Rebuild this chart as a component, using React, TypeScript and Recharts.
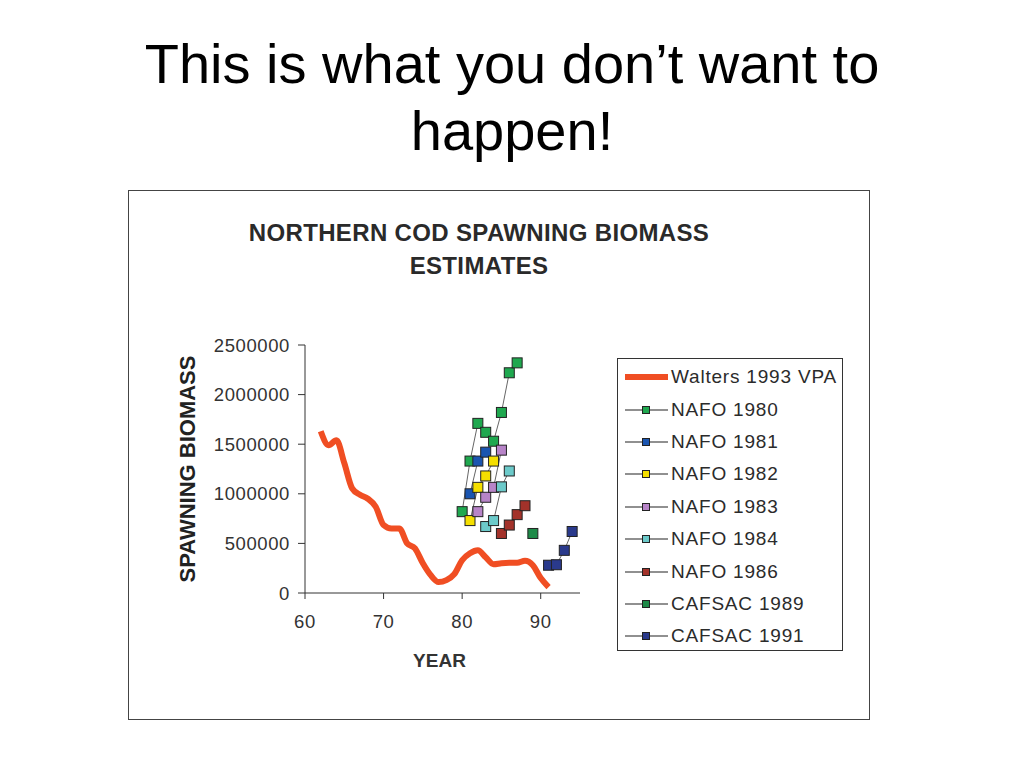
import React from 'react';
import { LineChart, Line, XAxis, YAxis } from 'recharts';

// Walters 1993 VPA spawning biomass
const walters = [
  { year: 62, value: 1630000 }, { year: 63, value: 1490000 }, { year: 64, value: 1540000 },
  { year: 65, value: 1310000 }, { year: 66, value: 1055000 }, { year: 67, value: 990000 },
  { year: 68, value: 950000 }, { year: 69, value: 870000 }, { year: 70, value: 685000 },
  { year: 71, value: 650000 }, { year: 72, value: 650000 }, { year: 73, value: 500000 },
  { year: 74, value: 450000 }, { year: 75, value: 300000 }, { year: 76, value: 180000 },
  { year: 77, value: 110000 }, { year: 78, value: 130000 }, { year: 79, value: 190000 },
  { year: 80, value: 330000 }, { year: 81, value: 400000 }, { year: 82, value: 430000 },
  { year: 83, value: 360000 }, { year: 84, value: 290000 }, { year: 85, value: 300000 },
  { year: 86, value: 305000 }, { year: 87, value: 305000 }, { year: 88, value: 325000 },
  { year: 89, value: 280000 }, { year: 90, value: 150000 }, { year: 91, value: 60000 },
];

const nafo1980 = [
  { year: 80, value: 820000 }, { year: 81, value: 1330000 }, { year: 82, value: 1710000 },
  { year: 83, value: 1620000 }, { year: 84, value: 1530000 }, { year: 85, value: 1820000 },
  { year: 86, value: 2220000 }, { year: 87, value: 2320000 },
];
const nafo1981 = [
  { year: 81, value: 1000000 }, { year: 82, value: 1330000 }, { year: 83, value: 1420000 },
];
const nafo1982 = [
  { year: 81, value: 730000 }, { year: 82, value: 1065000 }, { year: 83, value: 1180000 },
  { year: 84, value: 1330000 },
];
const nafo1983 = [
  { year: 82, value: 820000 }, { year: 83, value: 965000 }, { year: 84, value: 1065000 },
  { year: 85, value: 1440000 },
];
const nafo1984 = [
  { year: 83, value: 670000 }, { year: 84, value: 730000 }, { year: 85, value: 1070000 },
  { year: 86, value: 1230000 },
];
const nafo1986 = [
  { year: 85, value: 600000 }, { year: 86, value: 685000 }, { year: 87, value: 790000 },
  { year: 88, value: 880000 },
];
const cafsac1989 = [{ year: 89, value: 600000 }];
const cafsac1991 = [
  { year: 91, value: 280000 }, { year: 92, value: 285000 }, { year: 93, value: 430000 },
  { year: 94, value: 620000 },
];

const yTicks = [0, 500000, 1000000, 1500000, 2000000, 2500000];
const xTicks = [60, 70, 80, 90];

const WALTERS_COLOR = '#f04e23';

const assessments = [
  { name: 'NAFO 1980', data: nafo1980, color: '#1fa84f' },
  { name: 'NAFO 1981', data: nafo1981, color: '#1a55b0' },
  { name: 'NAFO 1982', data: nafo1982, color: '#f5df00' },
  { name: 'NAFO 1983', data: nafo1983, color: '#b784c8' },
  { name: 'NAFO 1984', data: nafo1984, color: '#6ccaca' },
  { name: 'NAFO 1986', data: nafo1986, color: '#a3322a' },
  { name: 'CAFSAC 1989', data: cafsac1989, color: '#1e8a48' },
  { name: 'CAFSAC 1991', data: cafsac1991, color: '#2a3a8c' },
];

const FONT = '"Liberation Sans", Arial, sans-serif';

const squareDot = (color: string) => (props: any) => {
  const { cx, cy, index } = props;
  if (cx == null || cy == null) return <g key={`e${index}`} />;
  return (
    <rect
      key={`d${index}`}
      x={cx - 5}
      y={cy - 5}
      width={10}
      height={10}
      fill={color}
      stroke="#222"
      strokeWidth={1}
    />
  );
};

const LegendBox = () => (
  <div
    style={{
      position: 'absolute',
      left: 617,
      top: 358,
      width: 226,
      height: 293,
      border: '1.5px solid #333',
      background: '#fff',
      boxSizing: 'border-box',
      paddingTop: 2,
      fontFamily: FONT,
      fontSize: 19,
      letterSpacing: 0.8,
      color: '#2b2b2b',
    }}
  >
    <div style={{ height: 32.4, display: 'flex', alignItems: 'center' }}>
      <svg width={53} height={12} style={{ flex: 'none' }}>
        <line x1={7} y1={6} x2={50} y2={6} stroke={WALTERS_COLOR} strokeWidth={6} />
      </svg>
      <span style={{ whiteSpace: 'nowrap' }}>Walters 1993 VPA</span>
    </div>
    {assessments.map((a) => (
      <div key={a.name} style={{ height: 32.4, display: 'flex', alignItems: 'center' }}>
        <svg width={53} height={12} style={{ flex: 'none' }}>
          <line x1={7} y1={6} x2={50} y2={6} stroke="#222" strokeWidth={1.2} />
          <rect x={24.5} y={2.5} width={7} height={7} fill={a.color} stroke="#222" strokeWidth={1} />
        </svg>
        <span style={{ whiteSpace: 'nowrap' }}>{a.name}</span>
      </div>
    ))}
  </div>
);

const YLabel = (props: any) => {
  const { viewBox } = props;
  const x = viewBox.x - 18;
  const y = viewBox.y + viewBox.height / 2;
  return (
    <text
      x={x}
      y={y}
      transform={`rotate(-90, ${x}, ${y})`}
      textAnchor="middle"
      dominantBaseline="central"
      fontFamily={FONT}
      fontWeight="bold"
      fontSize={22}
      fill="#222"
    >
      SPAWNING BIOMASS
    </text>
  );
};

const XLabel = (props: any) => {
  const { viewBox } = props;
  return (
    <text
      x={viewBox.x + viewBox.width / 2 - 3}
      y={viewBox.y + 67}
      textAnchor="middle"
      dominantBaseline="central"
      fontFamily={FONT}
      fontWeight="bold"
      fontSize={19}
      fill="#333"
    >
      YEAR
    </text>
  );
};

export default function App() {
  const tickStyle = { fill: '#333', fontSize: 18.5, fontFamily: FONT, letterSpacing: 0.6 };
  return (
    <div style={{ position: 'fixed', left: 0, top: 0, width: 1024, height: 768, background: '#fff' }}>
      <div
        style={{
          position: 'absolute',
          left: 0,
          top: 30,
          width: 1024,
          textAlign: 'center',
          fontFamily: FONT,
          fontSize: 56,
          lineHeight: '67px',
          color: '#000',
        }}
      >
        This is what you don’t want to
        <br />
        happen!
      </div>

      <div
        style={{
          position: 'absolute',
          left: 128,
          top: 190,
          width: 742,
          height: 530,
          border: '1.5px solid #444',
          boxSizing: 'border-box',
        }}
      />

      <div
        style={{
          position: 'absolute',
          left: 129,
          top: 216,
          width: 700,
          textAlign: 'center',
          fontFamily: FONT,
          fontWeight: 'bold',
          fontSize: 24,
          letterSpacing: 0.35,
          lineHeight: '33px',
          color: '#2a2a2a',
        }}
      >
        NORTHERN COD SPAWNING BIOMASS
        <br />
        ESTIMATES
      </div>

      <div style={{ position: 'absolute', left: 0, top: 0 }}>
        <LineChart width={1024} height={768} margin={{ top: 345, right: 444, bottom: 145, left: 205 }}>
          <XAxis
            type="number"
            dataKey="year"
            domain={[60, 95]}
            ticks={xTicks}
            allowDuplicatedCategory={false}
            height={30}
            stroke="#333"
            tick={tickStyle}
            tickSize={6}
            tickMargin={16}
            label={<XLabel />}
          />
          <YAxis
            type="number"
            dataKey="value"
            domain={[0, 2500000]}
            ticks={yTicks}
            width={100}
            stroke="#333"
            tick={tickStyle}
            tickSize={7}
            tickMargin={8}
            label={<YLabel />}
          />
          <Line
            name="Walters 1993 VPA"
            data={walters}
            dataKey="value"
            type="monotone"
            stroke={WALTERS_COLOR}
            strokeWidth={6}
            dot={false}
            activeDot={false}
            isAnimationActive={false}
          />
          {assessments.map((a) => (
            <Line
              key={a.name}
              name={a.name}
              data={a.data}
              dataKey="value"
              type="linear"
              stroke="#666"
              strokeWidth={1}
              dot={squareDot(a.color)}
              activeDot={false}
              isAnimationActive={false}
            />
          ))}
        </LineChart>
      </div>

      <LegendBox />
    </div>
  );
}
